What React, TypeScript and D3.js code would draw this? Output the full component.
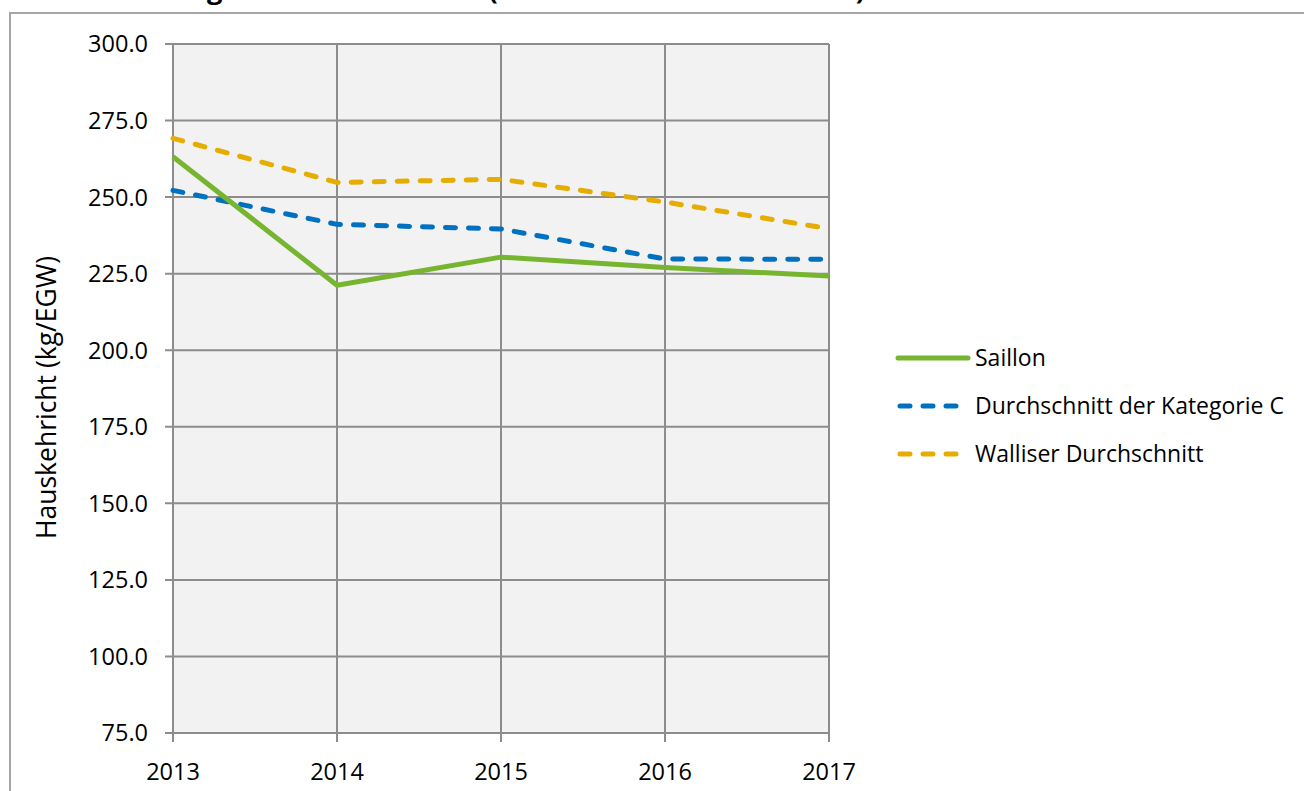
import { useRef, useEffect } from 'react'
import * as d3 from 'd3'

// data
const years = [2013, 2014, 2015, 2016, 2017]
const saillon = [263.2, 221.2, 230.4, 227.0, 224.2]
const kategorieC = [252.2, 241.1, 239.6, 229.8, 229.7]
const wallis = [269.2, 254.8, 255.8, 248.4, 239.7]
const yTicks = [75, 100, 125, 150, 175, 200, 225, 250, 275, 300]

const seriesNames = ['Saillon', 'Durchschnitt der Kategorie C', 'Walliser Durchschnitt']
const seriesColors = ['#77B530', '#0070C0', '#E5AD00']
const seriesDashed = [false, true, true]

const FONT = "'Open Sans', 'Noto Sans', sans-serif"

export default function App() {
    const svgRef = useRef<SVGSVGElement>(null)

    useEffect(() => {
        if (!svgRef.current) return
        const svg = d3.select(svgRef.current)
        svg.selectAll('*').remove()

        const width = 1304
        const height = 791
        const plot = { left: 173, right: 829, top: 44, bottom: 733 }

        // chart frame (cut by the window on the right and bottom)
        svg.append('path')
            .attr('d', `M10,${height + 5} L10,13 L${width + 5},13`)
            .style('fill', 'none')
            .style('stroke', '#a6a6a6')
            .style('stroke-width', 2)

        // title, mostly above the visible area (as in the reference)
        svg.append('text')
            .attr('x', 55)
            .attr('y', -1)
            .style('font-family', FONT)
            .style('font-weight', 'bold')
            .style('font-size', '27.3px')
            .style('fill', '#000')
            .text('Entwicklung des Hauskehrichts (Saillon und Walliser Mittel)')

        const x = d3.scalePoint<number>()
            .domain(years)
            .range([plot.left, plot.right])

        const y = d3.scaleLinear()
            .domain([75, 300])
            .range([plot.bottom, plot.top])

        svg.append('rect')
            .attr('x', plot.left)
            .attr('y', plot.top)
            .attr('width', plot.right - plot.left)
            .attr('height', plot.bottom - plot.top)
            .style('fill', '#f2f2f2')

        const gridColor = '#8c8c8c'

        // horizontal grid
        svg.append('g')
            .selectAll('line')
            .data(yTicks)
            .enter()
            .append('line')
            .attr('x1', plot.left - 8)
            .attr('x2', plot.right)
            .attr('y1', d => y(d))
            .attr('y2', d => y(d))
            .style('stroke', gridColor)
            .style('stroke-width', 2)

        // vertical grid + x ticks
        svg.append('g')
            .selectAll('line')
            .data(years)
            .enter()
            .append('line')
            .attr('x1', d => x(d)!)
            .attr('x2', d => x(d)!)
            .attr('y1', plot.top)
            .attr('y2', plot.bottom + 9)
            .style('stroke', gridColor)
            .style('stroke-width', 2)

        // y labels
        svg.append('g')
            .selectAll('text')
            .data(yTicks)
            .enter()
            .append('text')
            .attr('x', 148)
            .attr('y', d => y(d))
            .attr('dy', '0.36em')
            .attr('text-anchor', 'end')
            .style('font-family', FONT)
            .style('font-size', '23.5px')
            .style('fill', '#000')
            .text(d => d.toFixed(1))

        // x labels
        svg.append('g')
            .selectAll('text')
            .data(years)
            .enter()
            .append('text')
            .attr('x', d => x(d)!)
            .attr('y', 780)
            .attr('text-anchor', 'middle')
            .style('font-family', FONT)
            .style('font-size', '23.5px')
            .style('fill', '#000')
            .text(d => String(d))

        // y axis title
        svg.append('text')
            .attr('transform', `translate(46,${(plot.top + plot.bottom) / 2 + 9}) rotate(-90)`)
            .attr('dy', '0.36em')
            .attr('text-anchor', 'middle')
            .style('font-family', FONT)
            .style('font-size', '26.5px')
            .style('fill', '#000')
            .text('Hauskehricht (kg/EGW)')

        // lines
        const allSeries = [saillon, kategorieC, wallis]
        const line = d3.line<number>()
            .x((d, i) => x(years[i])!)
            .y(d => y(d))

        const order = [2, 1, 0]
        order.forEach(k => {
            svg.append('path')
                .datum(allSeries[k])
                .attr('d', line)
                .style('fill', 'none')
                .style('stroke', seriesColors[k])
                .style('stroke-width', 5)
                .style('stroke-linejoin', 'round')
                .style('stroke-linecap', seriesDashed[k] ? 'round' : 'butt')
                .style('stroke-dasharray', seriesDashed[k] ? '10,13' : null)
        })

        // legend
        const legend = svg.append('g')
        const rowY = [358, 406, 454]
        seriesNames.forEach((name, i) => {
            legend.append('line')
                .attr('x1', seriesDashed[i] ? 900 : 898)
                .attr('x2', seriesDashed[i] ? 962 : 968)
                .attr('y1', rowY[i])
                .attr('y2', rowY[i])
                .style('stroke', seriesColors[i])
                .style('stroke-width', 5)
                .style('stroke-linecap', 'round')
                .style('stroke-dasharray', seriesDashed[i] ? '10,13' : null)
            legend.append('text')
                .attr('x', 975)
                .attr('y', rowY[i])
                .attr('dy', '0.36em')
                .style('font-family', FONT)
                .style('font-size', '23px')
                .style('fill', '#000')
                .text(name)
        })
    }, [])

    return (
        <svg
            ref={svgRef}
            width={1304}
            height={791}
            style={{ position: 'absolute', left: 0, top: 0, display: 'block', background: '#fff' }}
        />
    )
}
